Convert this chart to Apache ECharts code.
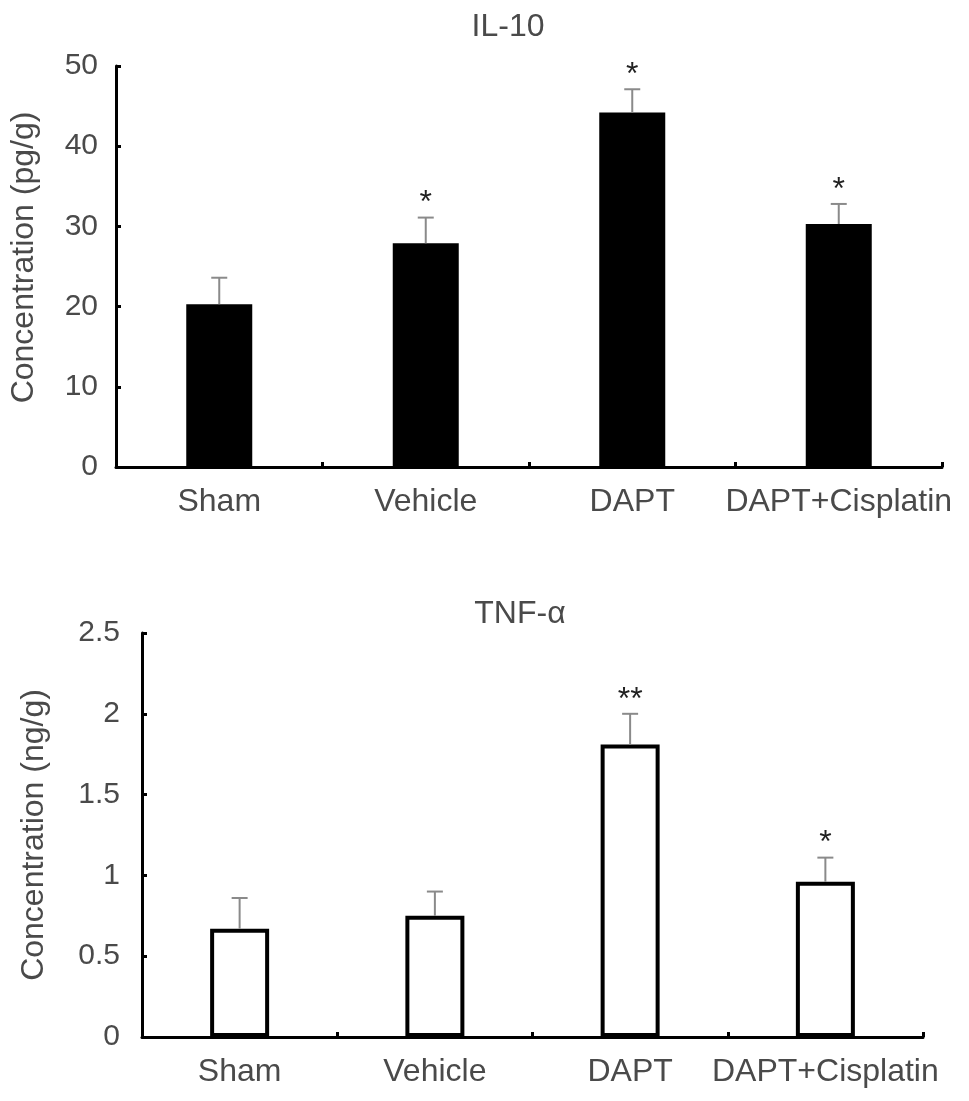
<!DOCTYPE html>
<html>
<head>
<meta charset="utf-8">
<script src="https://cdn.jsdelivr.net/npm/echarts@6/dist/echarts.min.js"></script>
<style>
html,body{margin:0;padding:0;background:#fff;}
#chart{width:969px;height:1101px;}
</style>
</head>
<body>
<div id="chart"></div>
<script>
const categories = ['Sham', 'Vehicle', 'DAPT', 'DAPT+Cisplatin'];
const il10Mean = [20.3, 27.9, 44.2, 30.3];
const il10Err = [3.3, 3.2, 2.9, 2.5];
const il10Sig = ['', '*', '*', '*'];
const tnfMean = [0.67, 0.75, 1.81, 0.96];
const tnfErr = [0.19, 0.15, 0.19, 0.15];
const tnfSig = ['', '', '**', '*'];
const il10Ticks = [0, 10, 20, 30, 40, 50];
const tnfTicks = [0, 0.5, 1, 1.5, 2, 2.5];

const FONT = 'Liberation Sans, Arial, Helvetica, sans-serif';
const TXT = '#4a4a4a';

function errData(mean, err) {
  return mean.map((m, i) => [i, m, err[i]]);
}

function makeRender(sig) {
  return function (params, api) {
    const i = api.value(0);
    const m = api.value(1);
    const e = api.value(2);
    const s = sig[params.dataIndex];
    const p0 = api.coord([i, m]);
    const p1 = api.coord([i, m + e]);
    const cap = 8;
    const children = [
      {type: 'line', shape: {x1: p0[0], y1: p0[1], x2: p1[0], y2: p1[1]}, style: {stroke: '#8a8a8a', lineWidth: 2}},
      {type: 'line', shape: {x1: p1[0] - cap, y1: p1[1], x2: p1[0] + cap, y2: p1[1]}, style: {stroke: '#8a8a8a', lineWidth: 2}}
    ];
    if (s) {
      children.push({type: 'text', x: p1[0], y: p1[1] + 2, style: {text: s, fill: '#222', font: '32px ' + FONT, align: 'center', verticalAlign: 'bottom'}});
    }
    return {type: 'group', children: children};
  };
}

const axisCommon = {
  axisLine: {show: true, lineStyle: {color: '#000', width: 3}},
  axisTick: {show: true, inside: true, length: 5, interval: 0, lineStyle: {color: '#000', width: 3}},
  splitLine: {show: false}
};

const option = {
  backgroundColor: '#fff',
  animation: false,
  title: [
    {text: 'IL-10', left: 503, top: 6, textAlign: 'center', textStyle: {fontFamily: FONT, fontSize: 32, fontWeight: 'normal', color: TXT}},
    {text: 'TNF-α', left: 515, top: 593, textAlign: 'center', textStyle: {fontFamily: FONT, fontSize: 32, fontWeight: 'normal', color: TXT}}
  ],
  grid: [
    {left: 116, right: 27, top: 66, height: 401},
    {left: 142, right: 46, top: 633, height: 404}
  ],
  xAxis: [
    Object.assign({}, axisCommon, {
      type: 'category', gridIndex: 0, data: categories,
      axisLabel: {interval: 0, fontFamily: FONT, fontSize: 32, color: TXT, margin: 19}
    }),
    Object.assign({}, axisCommon, {
      type: 'category', gridIndex: 1, data: categories,
      axisLabel: {interval: 0, fontFamily: FONT, fontSize: 32, color: TXT, margin: 19}
    })
  ],
  yAxis: [
    Object.assign({}, axisCommon, {
      type: 'value', gridIndex: 0, min: il10Ticks[0], max: il10Ticks[il10Ticks.length - 1], interval: 10,
      name: 'Concentration (pg/g)', nameLocation: 'middle', nameGap: 76,
      nameTextStyle: {fontFamily: FONT, fontSize: 32, color: TXT, padding: [0, 0, 0, 18]},
      axisLabel: {fontFamily: FONT, fontSize: 30, color: TXT, margin: 18}
    }),
    Object.assign({}, axisCommon, {
      type: 'value', gridIndex: 1, min: tnfTicks[0], max: tnfTicks[tnfTicks.length - 1], interval: 0.5,
      name: 'Concentration (ng/g)', nameLocation: 'middle', nameGap: 92,
      nameTextStyle: {fontFamily: FONT, fontSize: 32, color: TXT},
      axisLabel: {fontFamily: FONT, fontSize: 30, color: TXT, margin: 22}
    })
  ],
  series: [
    {type: 'bar', xAxisIndex: 0, yAxisIndex: 0, data: il10Mean, barWidth: 66, itemStyle: {color: '#000'}},
    {type: 'custom', xAxisIndex: 0, yAxisIndex: 0, data: errData(il10Mean, il10Err), renderItem: makeRender(il10Sig), clip: false, z: 5},
    {type: 'bar', xAxisIndex: 1, yAxisIndex: 1, data: tnfMean, barWidth: 59, itemStyle: {color: '#fff', borderColor: '#000', borderWidth: 4}},
    {type: 'custom', xAxisIndex: 1, yAxisIndex: 1, data: errData(tnfMean, tnfErr), renderItem: makeRender(tnfSig), clip: false, z: 5}
  ]
};

const chart = echarts.init(document.getElementById('chart'));
chart.setOption(option);
</script>
</body>
</html>
